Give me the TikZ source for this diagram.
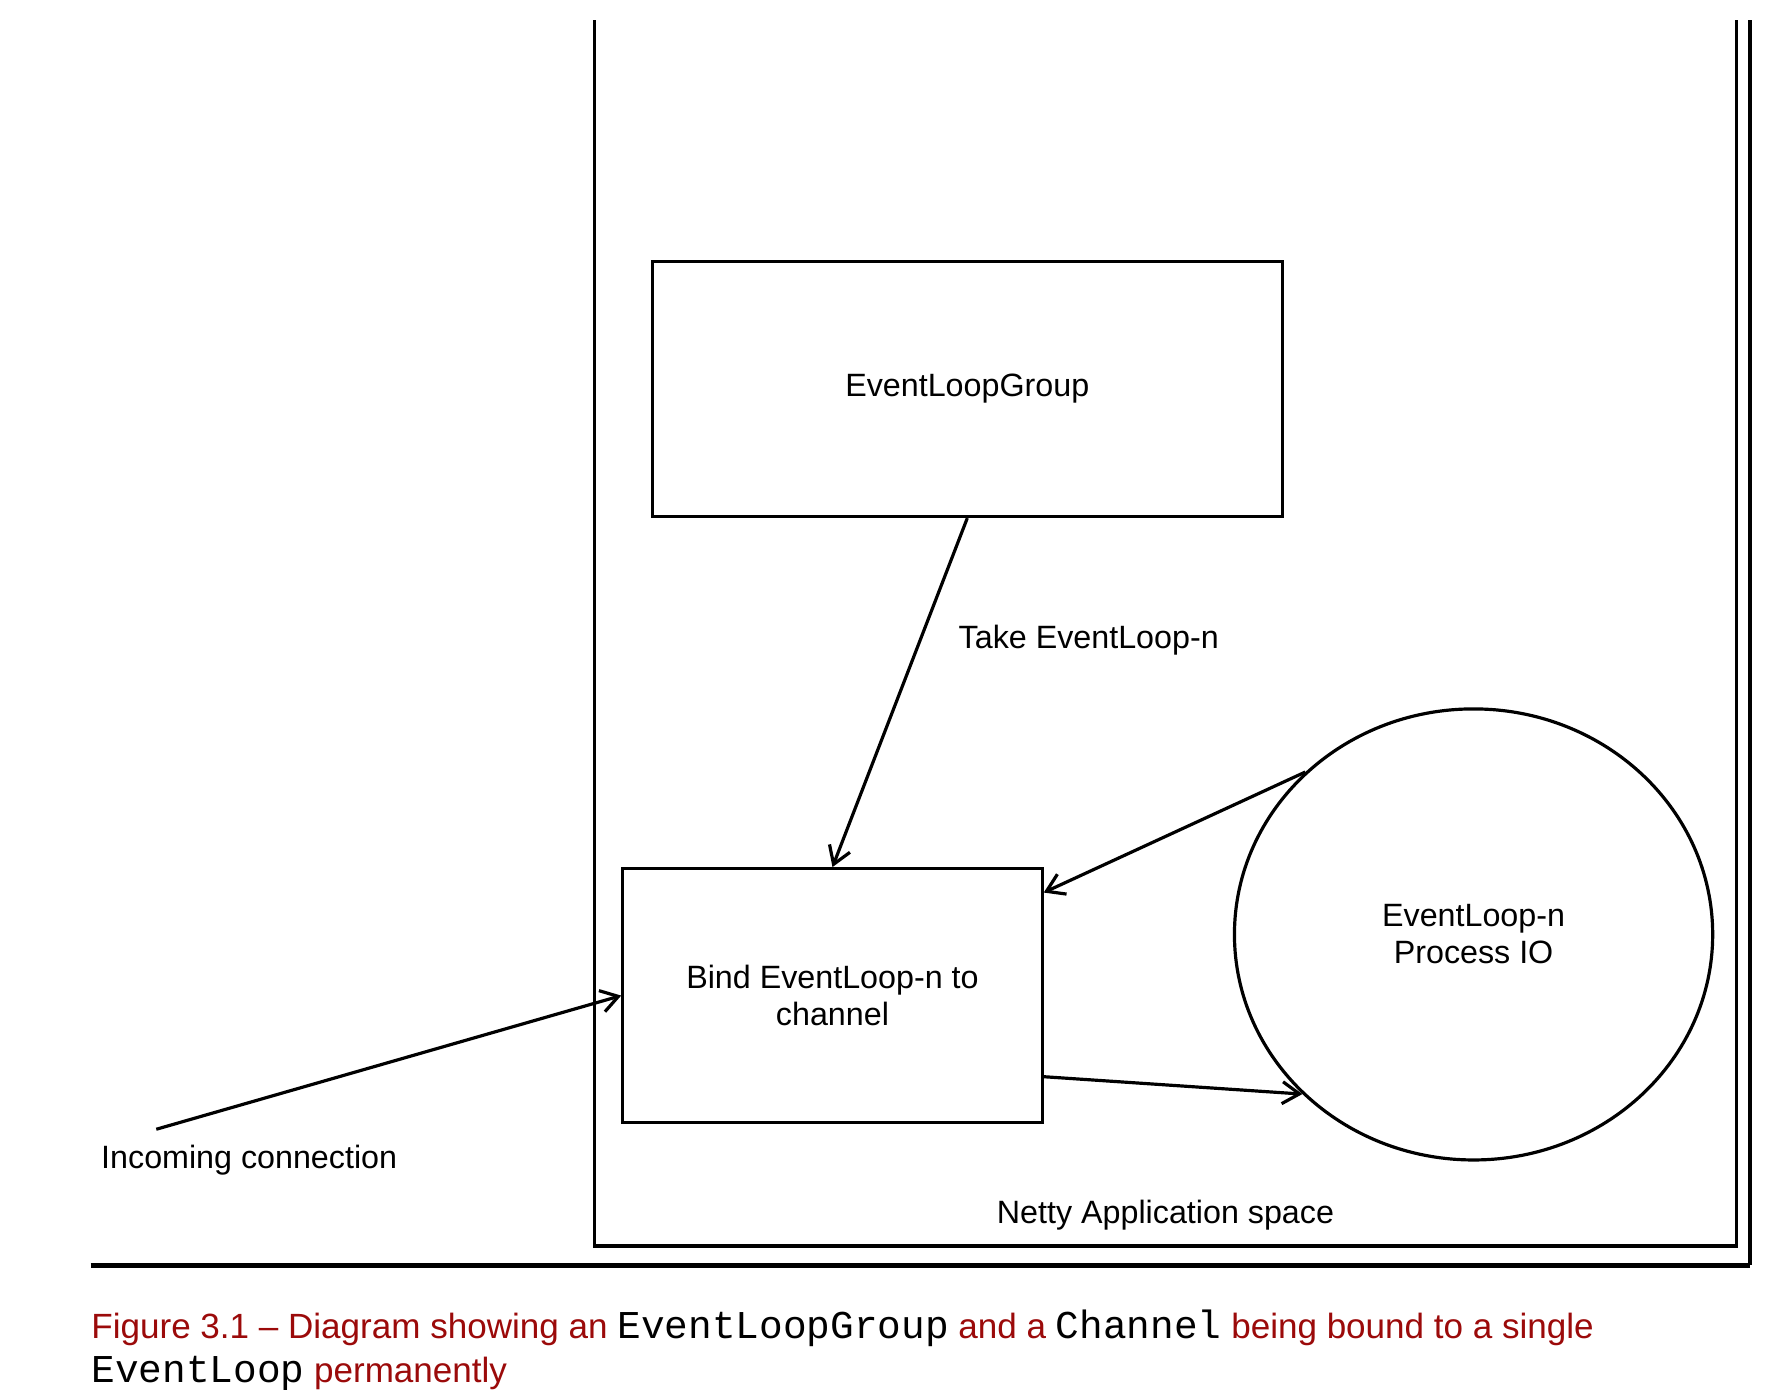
\documentclass[tikz,border=0pt]{standalone}
\usepackage{fontspec}
\setmainfont{Liberation Sans}
\setmonofont{Liberation Mono}
\usetikzlibrary{arrows.meta,shapes.geometric}
\definecolor{capred}{HTML}{9B0A0A}
\newcommand\capcode[1]{{\fontsize{9.9}{11}\ttfamily\color{black}#1}}

\tikzset{
  box/.style={draw, thick, rectangle, inner sep=0pt, align=center},
  loopcircle/.style={draw, thick, ellipse, inner sep=0pt, align=center,
    minimum width=4.22cm, minimum height=3.98cm},
  arr/.style={thick, -{Straight Barb[length=4.3pt,width=5.5pt]}},
  caption/.style={anchor=base west, inner sep=0pt, color=capred,
    font=\fontsize{8.8}{10.8}\selectfont}
}

\begin{document}
\begin{tikzpicture}[x=0.01cm, y=-0.01cm, font=\fontsize{8.1}{9.3}\selectfont]
\useasboundingbox (0,0) rectangle (1568,1227);

  % application space frame
  \draw[thick] (525,18) -- (525,1100) -- (1533,1100) -- (1533,18);
  \draw[thick] (1545,18) -- (1545,1117);
  \draw[line width=1.2pt] (80,1117) -- (1545,1117);

  \node[box, minimum width=5.56cm, minimum height=2.25cm] (group) at (854,343.5) {EventLoopGroup};
  \node[box, minimum width=3.70cm, minimum height=2.24cm] (bind) at (735,879) {Bind EventLoop-n to\\channel};
  \node[loopcircle] (loop) at (1301,825) {EventLoop-n\\Process IO};

  \coordinate (src) at (138,997);

  \draw[arr] (group.south) -- (bind.north);
  \draw[arr] (loop.136) -- (bind.26);
  \draw[arr] (bind.-21) -- (loop.223);
  \draw[arr] (src) -- (bind.west);

  \node[anchor=west] (takelabel) at (834,565) {Take EventLoop-n};
  \node (inlabel) at (220,1024) {Incoming connection};
  \node (spacelabel) at (1029,1073) {Netty Application space};

  % figure caption
  \node[caption] (cap1) at (80,1182) {Figure 3.1 -- Diagram showing an \capcode{EventLoopGroup} and a \capcode{Channel} being bound to a single};
  \node[caption] (cap2) at (80,1221) {\capcode{EventLoop} permanently};
\end{tikzpicture}
\end{document}
